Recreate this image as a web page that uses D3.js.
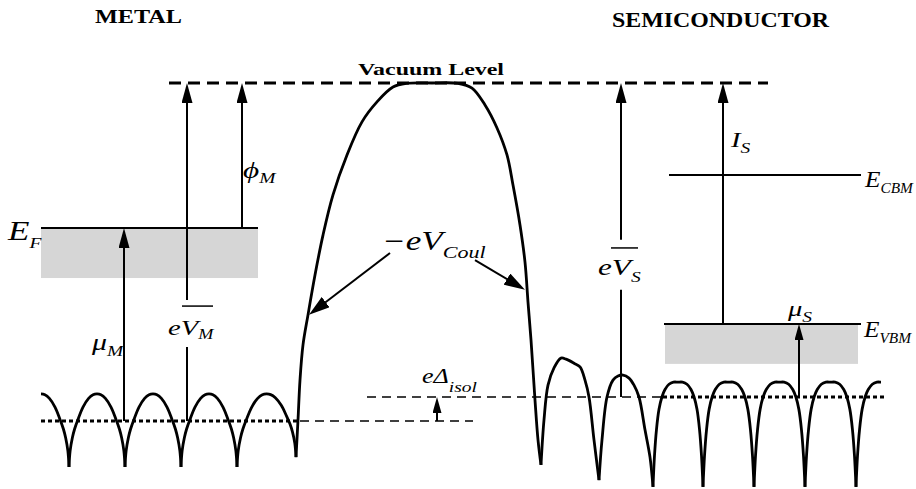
<!DOCTYPE html>
<html>
<head>
<meta charset="utf-8">
<script src="https://cdn.jsdelivr.net/npm/d3@7"></script>
<style>
  body { margin: 0; background: #fff; }
  svg { display: block; }
  text { font-family: "Liberation Serif", "Times New Roman", serif; fill: #000; }
</style>
</head>
<body>
<svg id="chart" width="916" height="489"></svg>
<script>
// energies in eV relative to the vacuum level, positions in arbitrary units along the junction
var levelLines = [
  {name: "EF",   E: -4.29, x0: 41,  x1: 258},
  {name: "ECBM", E: -2.72, x0: 669, x1: 861},
  {name: "EVBM", E: -7.13, x0: 664, x1: 861}
];
var bands = [
  {name: "metal",   top: -4.29, bottom: -5.77, x0: 41,  x1: 258},
  {name: "valence", top: -7.13, bottom: -8.31, x0: 665, x1: 858}
];
var vacuumLevel = {E: 0, x0: 169, x1: 768};
var dottedLevels = [
  {E: -10,   x0: 41,  x1: 300},
  {E: -9.29, x0: 663, x1: 886}
];
var dashedLevels = [
  {E: -10,   x0: 300, x1: 473},
  {E: -9.29, x0: 367, x1: 663}
];

// arrows: from -> to (head at "to")
var arrows = [
  {x0: 124, E0: -10,   x1: 124, E1: -4.29, head: "head"},
  {x0: 187, E0: -6.42, x1: 187, E1: 0,     head: "head"},
  {x0: 242, E0: -4.29, x1: 242, E1: 0,     head: "head"},
  {x0: 621, E0: -4.64, x1: 621, E1: 0,     head: "head"},
  {x0: 723, E0: -7.13, x1: 723, E1: 0,     head: "head"},
  {x0: 799, E0: -9.29, x1: 799, E1: -7.13, head: "headSmall"},
  {x0: 437, E0: -10,   x1: 437, E1: -9.29, head: "headSmall"},
  {x0: 390, E0: -5.03, x1: 309, E1: -6.86, head: "headBig"},
  {x0: 475, E0: -5.24, x1: 525, E1: -6.12, head: "headBig"}
];
var plainSegments = [
  {x: 187, E0: -10,   E1: -7.81},
  {x: 621, E0: -9.29, E1: -6.12}
];
var overbars = [
  {x0: 182, x1: 213, E: -6.60},
  {x0: 611, x1: 638, E: -4.88}
];

// periodic crystal potentials
var metalCusps = [13, 69, 125, 181, 237, 296];
var metalCuspE = [-11.36, -11.36, -11.36, -11.36, -11.36, -11.07];
var metalPeakE = -9.20;
var semiCusps = [653, 703, 754, 805, 856, 907];
var semiCuspE = -11.95;
var semiPeakE = -8.85;
var metalProfile = [[0,0],[0.02,0.22],[0.06,0.4],[0.1,0.52],[0.16,0.65],[0.25,0.82],[0.35,0.94],[0.43,0.99],[0.5,1]];
var semiProfile = [[0,0],[0.03,0.3],[0.07,0.55],[0.12,0.74],[0.18,0.86],[0.24,0.93],[0.32,0.98],[0.41,1],[0.5,1]];

// image-charge (Coulomb) barrier and the two perturbed surface cells
var barrier = [[296,-11.07],[298,-9.97],[300,-8.79],[303,-7.75],[308,-6.86],[315,-5.68],[323,-4.50],[333,-3.31],
  [347,-2.13],[362,-1.15],[377,-0.56],[393,-0.12],[407,-0.01],[432,0],[458,-0.01],[472,-0.15],[485,-0.65],
  [497,-1.33],[507,-2.13],[513,-3.02],[520,-4.20],[525,-5.30],[528,-6.48],[531,-7.60],[535,-9.38],[538,-10.56],[541,-11.30]];
var semiFirstArch = [[541,-11.30],[544,-9.97],[548,-8.94],[554,-8.43],[561,-8.14],[566,-8.17],[574,-8.29],
  [580,-8.40],[585,-8.79],[589,-9.29],[594,-10.56],[599,-11.75]];
var semiSecondArch = [[599,-11.75],[602,-10.56],[607,-9.29],[613,-8.79],[618,-8.67],[623,-8.64],[629,-8.73],
  [634,-8.94],[639,-9.29],[645,-10.26],[650,-11.07],[653,-11.95]];

var headers = [
  {text: "METAL", x: 95, E: 1.78, len: 87, size: 18.5},
  {text: "SEMICONDUCTOR", x: 612, E: 1.66, len: 217, size: 20.5},
  {text: "Vacuum Level", x: 358, E: 0.24, len: 146, size: 17.5}
];
var labels = [
  {main: "E", sub: "F", x: 8, E: -4.64, size: 27, subSize: 15, dy: 8, sx: 1.3},
  {main: "\u03D5", sub: "M", x: 243, E: -2.81, size: 24, subSize: 15, dy: 5, sx: 1.3},
  {main: "\u03BC", sub: "M", x: 92, E: -7.90, size: 23, subSize: 15, dy: 6, sx: 1.3},
  {main: "eV", sub: "M", x: 168, E: -7.46, size: 22, subSize: 14, dy: 4, sx: 1.3},
  {main: "\u2212eV", sub: "Coul", x: 382, E: -4.94, size: 27, subSize: 17, dy: 8, sx: 1.3},
  {main: "eV", sub: "S", x: 598, E: -5.68, size: 24, subSize: 15, dy: 7, sx: 1.3},
  {main: "I", sub: "S", x: 731, E: -1.89, size: 22, subSize: 15, dy: 6, sx: 1.3},
  {main: "E", sub: "CBM", x: 865, E: -3.08, size: 23, subSize: 14, dy: 6, sx: 1.1},
  {main: "E", sub: "VBM", x: 864, E: -7.51, size: 23, subSize: 14, dy: 6, sx: 1.1},
  {main: "\u03BC", sub: "S", x: 788, E: -6.89, size: 22, subSize: 15, dy: 6, sx: 1.3},
  {main: "e\u0394", sub: "isol", x: 422, E: -8.88, size: 20, subSize: 15, dy: 9, sx: 1.3}
];

var svg = d3.select("#chart");
var x = d3.scaleLinear().domain([0, 916]).range([0, 916]);
var y = d3.scaleLinear().domain([0, -10]).range([83, 421]);

var defs = svg.append("defs");
function marker(id, len, half) {
  defs.append("marker")
    .attr("id", id)
    .attr("markerUnits", "userSpaceOnUse")
    .attr("viewBox", [0, -half, len, 2 * half].join(" "))
    .attr("markerWidth", len)
    .attr("markerHeight", 2 * half)
    .attr("refX", len / 2)
    .attr("refY", 0)
    .attr("orient", "auto")
    .append("path")
    .attr("d", "M0," + (-half) + "L" + len + ",0L0," + half + "Z")
    .attr("fill", "#000");
  return len;
}
var headLen = {
  head: marker("head", 20, 5.5),
  headSmall: marker("headSmall", 16, 4.5),
  headBig: marker("headBig", 21, 6.5)
};

defs.append("clipPath").attr("id", "lattice")
  .append("rect")
  .attr("x", x(41)).attr("y", 0)
  .attr("width", x(881) - x(41)).attr("height", 489);

// shaded bands
svg.selectAll(".band").data(bands).enter().append("rect")
  .attr("class", "band")
  .attr("x", function(d) { return x(d.x0); })
  .attr("y", function(d) { return y(d.top); })
  .attr("width", function(d) { return x(d.x1) - x(d.x0); })
  .attr("height", function(d) { return y(d.bottom) - y(d.top); })
  .attr("fill", "#d6d6d6");

// level lines
svg.selectAll(".level").data(levelLines).enter().append("line")
  .attr("class", "level")
  .attr("x1", function(d) { return x(d.x0); })
  .attr("x2", function(d) { return x(d.x1); })
  .attr("y1", function(d) { return y(d.E); })
  .attr("y2", function(d) { return y(d.E); })
  .attr("stroke", "#000").attr("stroke-width", 2);

svg.append("line")
  .attr("x1", x(vacuumLevel.x0)).attr("x2", x(vacuumLevel.x1))
  .attr("y1", y(vacuumLevel.E)).attr("y2", y(vacuumLevel.E))
  .attr("stroke", "#000").attr("stroke-width", 2.8)
  .attr("stroke-dasharray", "12,7");

svg.selectAll(".dotted").data(dottedLevels).enter().append("line")
  .attr("class", "dotted")
  .attr("x1", function(d) { return x(d.x0); })
  .attr("x2", function(d) { return x(d.x1); })
  .attr("y1", function(d) { return y(d.E); })
  .attr("y2", function(d) { return y(d.E); })
  .attr("stroke", "#000").attr("stroke-width", 3)
  .attr("stroke-dasharray", "4,3");

svg.selectAll(".dashed").data(dashedLevels).enter().append("line")
  .attr("class", "dashed")
  .attr("x1", function(d) { return x(d.x0); })
  .attr("x2", function(d) { return x(d.x1); })
  .attr("y1", function(d) { return y(d.E); })
  .attr("y2", function(d) { return y(d.E); })
  .attr("stroke", "#000").attr("stroke-width", 1.3)
  .attr("stroke-dasharray", "9,6");

// potential curves
var line = d3.line()
  .x(function(d) { return x(d[0]); })
  .y(function(d) { return y(d[1]); })
  .curve(d3.curveCatmullRom.alpha(0.5));

function arch(xa, xb, Ea, Eb, Ep, profile) {
  var pts = [];
  profile.forEach(function(p) { pts.push([xa + p[0] * (xb - xa), Ea + p[1] * (Ep - Ea)]); });
  profile.slice(0, -1).reverse().forEach(function(p) { pts.push([xb - p[0] * (xb - xa), Eb + p[1] * (Ep - Eb)]); });
  return pts;
}

var cells = [];
for (var i = 0; i < metalCusps.length - 1; i++) {
  cells.push(arch(metalCusps[i], metalCusps[i + 1], metalCuspE[i], metalCuspE[i + 1], metalPeakE, metalProfile));
}
cells.push(barrier, semiFirstArch, semiSecondArch);
for (var j = 0; j < semiCusps.length - 1; j++) {
  cells.push(arch(semiCusps[j], semiCusps[j + 1], semiCuspE, semiCuspE, semiPeakE, semiProfile));
}

svg.append("g").attr("clip-path", "url(#lattice)")
  .selectAll("path").data(cells).enter().append("path")
  .attr("d", line)
  .attr("fill", "none")
  .attr("stroke", "#000")
  .attr("stroke-width", 2.8)
  .attr("stroke-linejoin", "round");

// arrows
svg.selectAll(".arrow").data(arrows).enter().append("line")
  .attr("class", "arrow")
  .each(function(d) {
    var px0 = x(d.x0), py0 = y(d.E0), px1 = x(d.x1), py1 = y(d.E1);
    var L = Math.hypot(px1 - px0, py1 - py0), cut = headLen[d.head] / 2;
    d3.select(this)
      .attr("x1", px0).attr("y1", py0)
      .attr("x2", px1 - (px1 - px0) * cut / L)
      .attr("y2", py1 - (py1 - py0) * cut / L);
  })
  .attr("stroke", "#000").attr("stroke-width", 2)
  .attr("marker-end", function(d) { return "url(#" + d.head + ")"; });

svg.selectAll(".seg").data(plainSegments).enter().append("line")
  .attr("class", "seg")
  .attr("x1", function(d) { return x(d.x); })
  .attr("x2", function(d) { return x(d.x); })
  .attr("y1", function(d) { return y(d.E0); })
  .attr("y2", function(d) { return y(d.E1); })
  .attr("stroke", "#000").attr("stroke-width", 2);

svg.selectAll(".bar").data(overbars).enter().append("line")
  .attr("class", "bar")
  .attr("x1", function(d) { return x(d.x0); })
  .attr("x2", function(d) { return x(d.x1); })
  .attr("y1", function(d) { return y(d.E); })
  .attr("y2", function(d) { return y(d.E); })
  .attr("stroke", "#000").attr("stroke-width", 1.5);

// texts
svg.selectAll(".header").data(headers).enter().append("text")
  .attr("class", "header")
  .attr("x", function(d) { return x(d.x); })
  .attr("y", function(d) { return y(d.E); })
  .attr("textLength", function(d) { return d.len; })
  .attr("lengthAdjust", "spacingAndGlyphs")
  .style("font-weight", "bold")
  .style("font-size", function(d) { return d.size + "px"; })
  .text(function(d) { return d.text; });

labels.forEach(function(d) {
  var t = svg.append("text")
    .attr("transform", "translate(" + x(d.x) + "," + y(d.E) + ") scale(" + d.sx + ",1)")
    .style("font-style", "italic")
    .style("font-size", d.size + "px");
  t.append("tspan").text(d.main);
  t.append("tspan")
    .attr("dy", d.dy)
    .style("font-size", d.subSize + "px")
    .text(d.sub);
});
</script>
</body>
</html>
